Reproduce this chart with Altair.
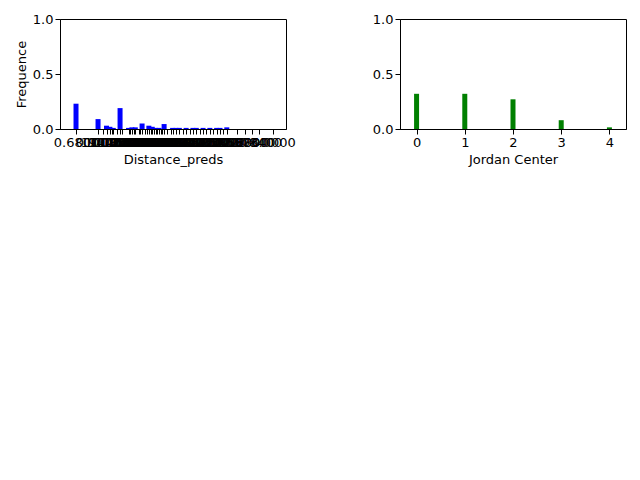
import altair as alt
import pandas as pd

# left panel: bar positions (arbitrary distance units) and frequencies
dist_x = [0.68, 0.94, 1.04, 1.08, 1.12, 1.20, 1.30, 1.34, 1.38, 1.46, 1.54, 1.58,
          1.62, 1.66, 1.72, 1.82, 1.86, 1.90, 1.98, 2.06, 2.10, 2.18, 2.26, 2.34, 2.38, 2.46, 2.58]
dist_f = [0.23, 0.09, 0.03, 0.02, 0.01, 0.19, 0.01, 0.015, 0.015, 0.05, 0.03, 0.02,
          0.01, 0.01, 0.045, 0.01, 0.01, 0.01, 0.01, 0.01, 0.01, 0.01, 0.01, 0.01, 0.01, 0.015, 0.0]
extra_ticks = [1.00, 1.10, 1.16, 1.22, 1.32, 1.36, 1.42, 1.44, 1.50, 1.52, 1.56, 1.60,
               1.64, 1.68, 1.70, 1.76, 1.80, 1.94, 2.02, 2.14, 2.22, 2.30, 2.42, 2.68, 2.76, 2.84, 3.00]

jordan_x = [0, 1, 2, 3, 4]
jordan_f = [0.32, 0.32, 0.27, 0.08, 0.015]

font = "DejaVu Sans"
ticks = sorted(dist_x + extra_ticks)

left = alt.Chart(pd.DataFrame({"x": dist_x, "f": dist_f})).mark_bar(size=5, color="blue").encode(
    x=alt.X("x:Q", title="Distance_preds", scale=alt.Scale(domain=[0.55, 3.1], nice=False, zero=False),
            axis=alt.Axis(values=ticks, format=".4f", labelOverlap=False, grid=False,
                          labelFlush=False)),
    y=alt.Y("f:Q", title="Frequence", scale=alt.Scale(domain=[0, 1]),
            axis=alt.Axis(values=[0, 0.5, 1.0], format=".1f", grid=False)),
).properties(width=226, height=110)

right = alt.Chart(pd.DataFrame({"x": jordan_x, "f": jordan_f})).mark_bar(size=5, color="green").encode(
    x=alt.X("x:Q", title="Jordan Center", scale=alt.Scale(domain=[-0.24, 4.24], nice=False),
            axis=alt.Axis(values=jordan_x, format="d", grid=False)),
    y=alt.Y("f:Q", title=None, scale=alt.Scale(domain=[0, 1]),
            axis=alt.Axis(values=[0, 0.5, 1.0], format=".1f", grid=False)),
).properties(width=226, height=110)

chart = alt.hconcat(left, right, spacing=75).configure_view(stroke="black").configure_axis(
    labelFont=font, titleFont=font, labelFontSize=13, titleFontSize=13, titleFontWeight="normal",
    domainColor="black", tickColor="black", labelColor="black", titleColor="black"
).properties(padding={"left": 6, "top": 4, "right": 5, "bottom": 5})

chart.save("out.html", embed_options={"renderer": "svg", "actions": False})
